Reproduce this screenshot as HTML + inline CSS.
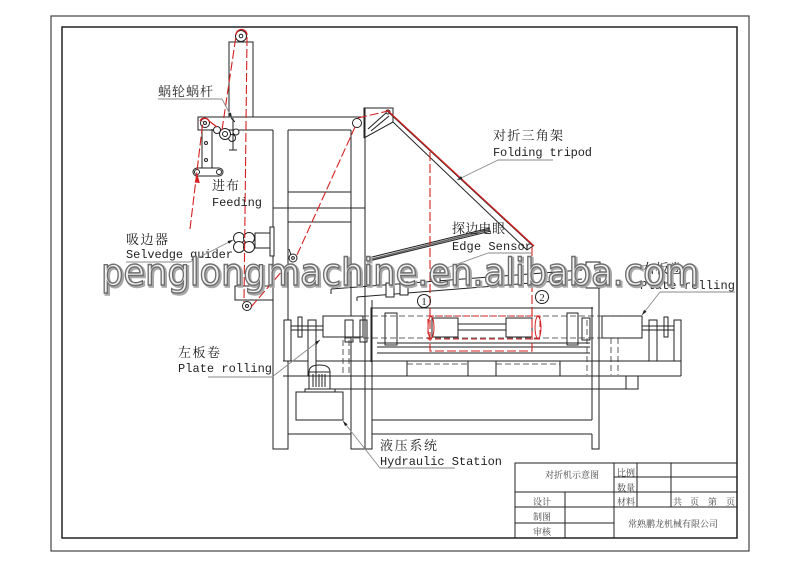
<!DOCTYPE html>
<html><head><meta charset="utf-8">
<style>
html,body{margin:0;padding:0;background:#fff;}
svg{display:block}
.l{stroke:#222;stroke-width:1;fill:none}
.lf{stroke:#222;stroke-width:1;fill:#fff}
.g{stroke:#8a8a8a;stroke-width:0.9;fill:none}
.r{stroke:#d42020;stroke-width:1.3;fill:none}
.rd{stroke:#d42020;stroke-width:1.1;fill:none;stroke-dasharray:9 3}
.d{stroke:#333;stroke-width:0.8;fill:none;stroke-dasharray:6 3}
.cn{font-family:"Liberation Serif","Noto Serif CJK SC",serif;font-size:13px;fill:#222}
.en{font-family:"Liberation Mono","Noto Serif CJK SC",monospace;font-size:12px;fill:#222}
.tb{font-family:"Liberation Serif","Noto Serif CJK SC",serif;font-size:9px;fill:#444}
.wm{font-family:"DejaVu Sans","Liberation Sans",sans-serif;font-size:37px}
</style></head><body>
<svg width="800" height="566" viewBox="0 0 800 566" xmlns="http://www.w3.org/2000/svg">
<defs>
<marker id="a" viewBox="0 0 10 10" refX="10" refY="5" markerWidth="6" markerHeight="6" orient="auto"><path d="M0 2L10 5L0 8z" fill="#222"/></marker>
</defs>
<rect x="0" y="0" width="800" height="566" fill="#fff"/>

<!-- borders -->
<rect x="51" y="16" width="698" height="535" stroke="#444" stroke-width="1.2" fill="none"/>
<rect x="62" y="27" width="675" height="511" stroke="#222" stroke-width="1.5" fill="none"/>

<!-- title block -->
<g class="l">
<rect x="515" y="463" width="222" height="75"/>
<path d="M614 463V538M515 492H737M515 507H737M515 523H614M565 492V538M614 477H737M637 463V507M671 463V507"/>
</g>
<text class="tb" x="545" y="478">对折机示意图</text>
<text class="tb" x="617" y="476">比例</text>
<text class="tb" x="617" y="491">数量</text>
<text class="tb" x="533" y="505">设计</text>
<text class="tb" x="617" y="505">材料</text>
<text class="tb" x="673" y="505">共</text>
<text class="tb" x="690" y="505">页</text>
<text class="tb" x="708" y="505">第</text>
<text class="tb" x="726" y="505">页</text>
<text class="tb" x="533" y="520">制图</text>
<text class="tb" x="533" y="535">审核</text>
<text class="tb" x="628" y="527">常熟鹏龙机械有限公司</text>

<!-- tower and crossbar -->
<g class="l">
<path d="M229 117V42H253V117"/>
<path d="M364 117H198V130H273M288 130H351"/>
<path d="M273 130V449H288V130"/>
<path d="M351 130V449H372V300"/>
<path d="M365 108V449"/>
<path d="M592 307V420M592 434V449H599V282"/>
<path d="M288 192H351M273 208H365M288 222H351"/>
<path d="M288 434H351M372 434H592M372 420H592"/>
</g>
<circle cx="241" cy="36" r="5.5" class="lf"/>
<circle cx="241" cy="36" r="1.8" class="l"/>

<!-- feeding bracket -->
<g class="l">
<path d="M202 125V168M212 129V168"/>
<rect x="193" y="168" width="30" height="8" rx="4" fill="#fff"/>
<circle cx="197" cy="172" r="2.5"/>
<circle cx="219" cy="172" r="2.5"/>
<circle cx="206" cy="143" r="1.5"/>
<circle cx="206" cy="160" r="1.5"/>
</g>
<circle cx="205" cy="123" r="4.5" class="lf"/>
<circle cx="205" cy="123" r="1.5" class="l"/>
<g class="l">
<circle cx="217" cy="130" r="3.5" fill="#fff"/>
<circle cx="232" cy="138" r="3.5" fill="#fff"/>
<circle cx="236" cy="132" r="3" fill="#fff"/>
<circle cx="225" cy="134" r="5.5" fill="#fff"/>
<circle cx="225" cy="134" r="2.5"/>
<path d="M233 118V150M229 150H237M231 118L235 122"/>
</g>

<!-- selvedge guider -->
<g class="l">
<rect x="255" y="233" width="15" height="15" fill="#fff"/>
<rect x="270" y="227" width="4" height="29" fill="#fff"/>
<circle cx="239" cy="238" r="5.5" fill="#fff"/>
<circle cx="249" cy="238" r="5.5" fill="#fff"/>
<circle cx="239" cy="247" r="5.5" fill="#fff"/>
<circle cx="249" cy="247" r="5.5" fill="#fff"/>
</g>

<!-- bottom pulley bracket -->
<g class="l">
<rect x="235" y="286" width="38" height="14"/>
<path d="M289 249L291 255"/>
</g>
<circle cx="247" cy="306" r="4.5" class="lf"/>
<circle cx="247" cy="306" r="1.5" class="l"/>
<circle cx="293" cy="258" r="4" class="lf"/>
<circle cx="293" cy="258" r="1.4" class="l"/>
<circle cx="357" cy="123" r="4.5" class="lf"/>

<!-- tripod head and arm -->
<g class="l">
<path d="M364 138V108H393V122"/>
<path d="M364 138L393 122"/>
<path d="M368 129L386 113M371 131L389 116"/>
<path d="M393 122L527 250M386 110L533 246M527 250L533 246"/>
</g>
<circle cx="388" cy="112" r="2" class="l"/>

<!-- edge sensor rods -->
<g class="l">
<path d="M368 258L490 228M369 261L491 231"/>
<path d="M331 289L582 270M357 297L582 279"/>
<path d="M331 289V294M357 297V301"/>
<rect x="386" y="283" width="8" height="14" fill="#fff"/>
<rect x="400" y="282" width="8" height="13" fill="#fff"/>
<rect x="586" y="262" width="14" height="26" fill="#fff"/>
<rect x="434" y="266" width="6" height="18" fill="#fff"/>
</g>
<path d="M370 259.5L490 229.5" stroke="#666" stroke-width="1.5"/>

<!-- table -->
<g class="l">
<path d="M283 361H681M283 376H681M681 320V376M333 389H638V376M626 376V389"/>
<path d="M407 361V376M468 361V376M496 361V376M560 361V376"/>
</g>
<g class="d">
<path d="M407 364H468M496 364H560M611 320V375M618 320V375M587 320V375"/>
<path d="M343 340V375M349 340V375"/>
</g>

<!-- left plate rolling -->
<g class="l">
<rect x="284" y="320" width="7" height="41" fill="#fff"/>
<rect x="308" y="320" width="8" height="56" fill="#fff"/>
<rect x="298" y="317" width="4" height="20" fill="#fff"/>
<rect x="323" y="316" width="40" height="21" fill="#fff"/>
<path d="M291 326H323M291 330H323"/>
<rect x="345" y="320" width="8" height="22"/>
<rect x="360" y="320" width="7" height="22"/>
<rect x="385" y="313" width="12" height="32"/>
</g>
<!-- right plate rolling -->
<g class="l">
<rect x="674" y="320" width="7" height="41" fill="#fff"/>
<rect x="649" y="320" width="8" height="41" fill="#fff"/>
<rect x="664" y="317" width="4" height="20" fill="#fff"/>
<rect x="602" y="316" width="40" height="22" fill="#fff"/>
<path d="M642 326H674M642 330H674"/>
<rect x="567" y="313" width="11" height="32"/>
<rect x="582" y="318" width="8" height="22"/>
</g>

<!-- roller frame -->
<g class="l">
<path d="M371 362V308H593"/>
<path d="M377 343H590M377 347H590M377 353H590"/>
<rect x="432" y="318" width="26" height="19"/>
<rect x="506" y="318" width="26" height="19"/>
<path d="M458 324H506M458 330H506"/>
</g>
<g class="d"><path d="M345 316H617M345 338H617"/></g>
<rect x="428" y="316" width="112" height="23" fill="none" stroke="#d42020" stroke-width="1" stroke-dasharray="6 3"/>
<ellipse cx="431" cy="327.5" rx="3" ry="11" fill="none" stroke="#d42020" stroke-width="1"/>
<ellipse cx="538" cy="327.5" rx="3" ry="11" fill="none" stroke="#d42020" stroke-width="1"/>

<!-- hydraulic station -->
<g class="l">
<rect x="296" y="392" width="47" height="28"/>
<rect x="305" y="389" width="30" height="3"/>
<path d="M309 389V372Q309 365 319.5 365Q330 365 330 372V389"/>
<path d="M309 372H330M313 374V387M316 374V387M319 374V387M322 374V387M325 374V387"/>
</g>

<!-- red fabric path -->
<path class="rd" d="M190 229L203 121"/>
<polygon points="197.3,174 194.6,182.5 199.8,183" fill="#d42020"/>
<path class="r" d="M200 121A5 5 0 0 1 209 121L217 127" stroke-width="1"/>
<path class="rd" d="M222 130L236 36"/>
<path class="r" d="M236 35A5.5 5.5 0 0 1 247 35" stroke-width="1"/>
<path class="rd" d="M247 37L244 302"/>
<path class="rd" d="M251 307L290 262"/>
<path class="rd" d="M297 255L355 127"/>
<path class="rd" d="M358 118L388 111"/>
<path class="r" d="M387 110L534 246"/>
<path class="rd" d="M430 152V351H532V247"/>

<!-- circled numbers -->
<circle cx="424" cy="301" r="6.5" class="l"/>
<text x="424" y="305" font-family="Liberation Serif,serif" font-size="11" text-anchor="middle" fill="#222">1</text>
<circle cx="542" cy="297" r="6.5" class="l"/>
<text x="542" y="301" font-family="Liberation Serif,serif" font-size="11" text-anchor="middle" fill="#222">2</text>

<!-- labels -->
<text class="cn" x="158" y="96" textLength="55">蜗轮蜗杆</text>
<path class="g" d="M158 99H222"/>
<path class="g" d="M222 99L232 118" marker-end="url(#a)"/>

<text class="cn" x="212" y="190" textLength="27">进布</text>
<text class="en" x="212" y="206" textLength="50">Feeding</text>

<text class="cn" x="126" y="244" textLength="42">吸边器</text>
<text class="en" x="126" y="258" textLength="107">Selvedge guider</text>
<path class="g" d="M126 262H190"/>
<path class="g" d="M190 262L233 240" marker-end="url(#a)"/>

<text class="cn" x="178" y="357" textLength="42">左板卷</text>
<text class="en" x="178" y="372" textLength="94">Plate rolling</text>
<path class="g" d="M208 377H272"/>
<path class="g" d="M272 377L320 340" marker-end="url(#a)"/>

<text class="cn" x="380" y="450" textLength="57">液压系统</text>
<text class="en" x="380" y="465" textLength="122">Hydraulic Station</text>
<path class="g" d="M380 468H455"/>
<path class="g" d="M380 468L343 421" marker-end="url(#a)"/>

<text class="cn" x="493" y="140" textLength="70">对折三角架</text>
<text class="en" x="493" y="156" textLength="99">Folding tripod</text>
<path class="g" d="M498 160H553"/>
<path class="g" d="M498 160L457 180" marker-end="url(#a)"/>

<text class="cn" x="452" y="233" textLength="53">探边电眼</text>
<text class="en" x="452" y="250" textLength="80">Edge Sensor</text>
<path class="g" d="M488 253H532"/>
<path class="g" d="M488 253L441 270" marker-end="url(#a)"/>

<text class="cn" x="642" y="273" textLength="40">右板卷</text>
<text class="en" x="640" y="289" textLength="95">Plate rolling</text>
<path class="g" d="M660 292H735"/>
<path class="g" d="M660 292L642 315" marker-end="url(#a)"/>

<!-- watermark -->
<text class="wm" x="102.5" y="286.5" textLength="598" lengthAdjust="spacingAndGlyphs" fill="#b5b5b5" stroke="#a8a8a8" stroke-width="2.4">penglongmachine.en.alibaba.com</text>
<text class="wm" x="101" y="285" textLength="598" lengthAdjust="spacingAndGlyphs" fill="#f1f1f1" stroke="#6e6e6e" stroke-width="1.4">penglongmachine.en.alibaba.com</text>
</svg>
</body></html>
